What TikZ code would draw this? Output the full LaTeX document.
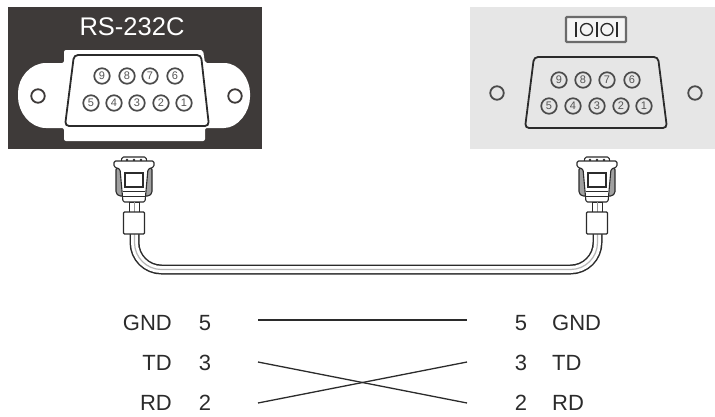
\documentclass[tikz,border=0pt]{standalone}
\usepackage{fontspec}
\setmainfont{Liberation Sans}
\usetikzlibrary{calc}
\definecolor{panel}{HTML}{3E3A39}
\definecolor{lightpanel}{HTML}{E6E6E6}
\definecolor{ink}{HTML}{2B2B2B}
\tikzset{
  pinmark/.style={circle,draw=ink!85,line width=1.7pt,fill=white,minimum size=15.5pt,inner sep=0pt,font=\fontsize{11}{11}\selectfont,text=ink!80},
  hole/.style={circle,line width=1.8pt,minimum size=13.5pt,inner sep=0pt},
  wire/.style={draw=ink,line width=1.3pt},
  label/.style={font=\fontsize{22}{22}\selectfont,text=ink,inner sep=0pt},
  shell/.style={draw=ink,line width=1.1pt,rounded corners=1.5pt,line join=round}
}
\begin{document}
\begin{tikzpicture}[x=1pt,y=-1pt]
        \useasboundingbox (0,0) rectangle (715,416);
        % left port
        \fill[panel] (8,7) rectangle (262,149);
        \node[text=white,inner sep=0pt,font=\fontsize{25.5}{25.5}\selectfont] (rsname) at (132,27) {RS-232C};
        \fill[white,rounded corners=2pt] (64,50) -- (203,50) -- (205,63) -- (222,63)
          .. controls (240,63) and (250,80) .. (250,95)
          .. controls (250,112) and (238,128) .. (222,128) -- (205,128) -- (205,141) -- (64,141) -- (64,128) -- (48,128)
          .. controls (30,128) and (18,112) .. (18,95)
          .. controls (18,78) and (30,63) .. (48,63) -- (64,63) -- cycle;
        \draw[ink,line width=1.8pt,rounded corners=4pt] (74,55) -- (201,55) -- (209,126) -- (65,126) -- cycle;
        \node[hole,draw=panel,fill=white] (holeA) at (38,96) {};
        \node[hole,draw=panel,fill=white] (holeB) at (235,96) {};
        \foreach \n/\x in {9/102,8/127,7/150,6/175}
          \node[pinmark] (lpin\n) at (\x,76) {\n};
        \foreach \n/\x in {5/91,4/114,3/137,2/161,1/184}
          \node[pinmark] (lpin\n) at (\x,103) {\n};
        % right port
        \fill[lightpanel] (470,7) rectangle (715,149);
        \draw[ink,line width=1.8pt,rounded corners=4pt] (534,57) -- (658,57) -- (667,128) -- (525,128) -- cycle;
        \node[hole,draw=ink!85,fill=lightpanel] (holeC) at (497,93) {};
        \node[hole,draw=ink!85,fill=lightpanel] (holeD) at (695,93) {};
        \foreach \n/\x in {9/559,8/583,7/607,6/632}
          \node[pinmark,fill=lightpanel] (rpin\n) at (\x,80) {\n};
        \foreach \n/\x in {5/549,4/573,3/597,2/621,1/644}
          \node[pinmark,fill=lightpanel] (rpin\n) at (\x,106) {\n};
        % serial icon
        \draw[ink!70,line width=2.2pt,fill=lightpanel!40,rounded corners=1pt] (566,17) rectangle (626,42);
        \foreach \x in {576,597,617}
          \draw[ink,line width=1.3pt] (\x,22) -- (\x,37);
        \draw[ink,line width=1.3pt] (586.5,29.5) circle (6);
        \draw[ink,line width=1.3pt] (607,29.5) circle (6);
        % cable
        \coordinate (capA) at (134.5,225);
        \coordinate (capB) at (597.5,225);
        \coordinate (cornerA) at (134.5,269.5);
        \coordinate (cornerB) at (597.5,269.5);
        \draw[ink,line width=10pt,rounded corners=27pt] (capA) -- (cornerA) -- (cornerB) -- (capB);
        \draw[white,line width=7pt,rounded corners=27pt] (capA) -- (cornerA) -- (cornerB) -- (capB);
        \draw[ink!35,line width=1.2pt,rounded corners=27pt] (capA) -- (cornerA) -- (cornerB) -- (capB);
        % plugs
        \foreach \name/\xs in {A/134,B/597}{
          \begin{scope}[xshift=\xs pt]
            \draw[shell,fill=white] (-12,157) -- (12,157) -- (13,163) -- (-13,163) -- cycle;
            \foreach \x in {-7,0,7}
              \fill[ink] (\x,160) circle (1.3);
            \draw[shell,fill=ink!45] (-18,168) -- (18,168) -- (18,193) -- (15,196) -- (-15,196) -- (-18,193) -- cycle;
            \draw[shell,fill=white] (-20,161) -- (20,161) -- (20,167) -- (14,169) -- (12,191) -- (11,202) -- (-11,202) -- (-12,191) -- (-14,169) -- (-20,167) -- cycle;
            \draw[ink,line width=1.1pt,fill=white] (-9,173) rectangle (9,187);
            \draw[ink,line width=0.9pt] (-11,191.5) -- (11,191.5) (-11,196.5) -- (11,196.5);
            \draw[ink,line width=1pt,fill=white] (-5,202) rectangle (5,212);
            \draw[ink!50,line width=0.8pt] (0,202) -- (0,212);
            \draw[ink,line width=1.2pt,fill=white,rounded corners=1pt] (-10.5,212) rectangle (10.5,234);
          \end{scope}
        }
        % pin table
        \node[label,anchor=east] (gndA) at (172,323) {GND};
        \node[label] (fiveA) at (205,323) {5};
        \node[label,anchor=east] (tdA) at (172,363) {TD};
        \node[label] (threeA) at (205,363) {3};
        \node[label,anchor=east] (rdA) at (172,403) {RD};
        \node[label] (twoA) at (205,403) {2};
        \node[label] (fiveB) at (521,323) {5};
        \node[label,anchor=west] (gndB) at (552,323) {GND};
        \node[label] (threeB) at (521,363) {3};
        \node[label,anchor=west] (tdB) at (552,363) {TD};
        \node[label] (twoB) at (521,403) {2};
        \node[label,anchor=west] (rdB) at (552,403) {RD};
        \coordinate (wireA) at (258,320);
        \coordinate (wireB) at (467,320);
        \coordinate (wireC) at (258,362);
        \coordinate (wireD) at (467,362);
        \coordinate (wireE) at (258,403);
        \coordinate (wireF) at (467,403);
        \draw[wire] (wireA)--(wireB);
        \draw[wire] (wireC)--(wireF);
        \draw[wire] (wireE)--(wireD);
\end{tikzpicture}
\end{document}
